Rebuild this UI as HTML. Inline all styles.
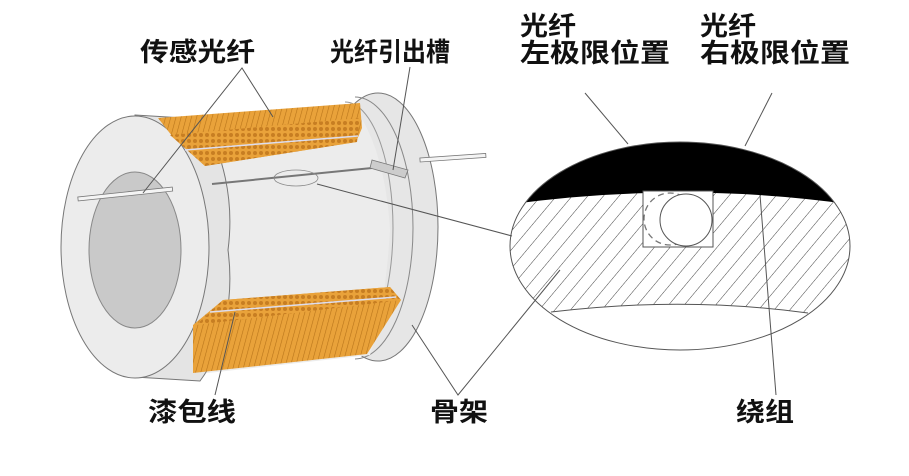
<!DOCTYPE html>
<html><head><meta charset="utf-8"><style>
html,body{margin:0;padding:0;background:#fff;}
svg{display:block;}
text{font-family:"Liberation Sans","Noto Sans CJK SC",sans-serif;font-size:26px;font-weight:bold;fill:#111;}
</style></head><body>
<svg width="909" height="476" viewBox="0 0 909 476" xmlns="http://www.w3.org/2000/svg">
<defs>
<pattern id="hatch" patternUnits="userSpaceOnUse" width="12" height="12" patternTransform="rotate(40)">
<rect width="12" height="12" fill="#fff"/>
<line x1="0" y1="0" x2="0" y2="12" stroke="#444" stroke-width="1"/>
</pattern>
<pattern id="coil" patternUnits="userSpaceOnUse" width="5" height="10" patternTransform="rotate(15)">
<rect width="5" height="10" fill="#e9a23a"/>
<line x1="0" y1="0" x2="0" y2="10" stroke="#b8741a" stroke-width="1.2"/>
</pattern>
<pattern id="dots" patternUnits="userSpaceOnUse" width="6" height="6">
<rect width="6" height="6" fill="#e9a23a"/>
<circle cx="3" cy="3" r="2" fill="#c77e22"/>
</pattern>
<clipPath id="ell"><ellipse cx="680" cy="246" rx="170" ry="104"/></clipPath>
</defs>

<!-- right flange -->
<ellipse cx="378" cy="227" rx="60" ry="134" fill="#e6e6e6" stroke="#777" stroke-width="1"/>
<path d="M355 97 A58 131 0 0 1 355 359" fill="none" stroke="#888" stroke-width="1"/>
<path d="M345 102 A48 126 0 0 1 345 354" fill="none" stroke="#999" stroke-width="1"/>
<!-- right fiber out -->
<rect x="420" y="158" width="66" height="4" fill="#f4f4f4" stroke="#777" stroke-width="0.8" transform="rotate(-4 420 160)"/>

<!-- drum body -->
<path d="M175 128 L355 108 Q385 150 390 230 Q385 310 370 355 L190 375 Z" fill="#ececec"/>
<!-- left flange side -->
<path d="M135 115 L200 119 A80 132 0 0 1 228 250 A80 132 0 0 1 200 381 L135 377 Z" fill="#e4e4e4" stroke="#777" stroke-width="1"/>
<!-- left flange front -->
<ellipse cx="135" cy="247" rx="74" ry="131" fill="#ececec" stroke="#777" stroke-width="1"/>
<ellipse cx="135" cy="250" rx="46" ry="78" fill="#c9c9c9" stroke="#888" stroke-width="1"/>

<!-- top winding -->
<path d="M158 118 L360 103 L362 128 L356 142 L205 166 L172 136 Z" fill="url(#coil)"/>
<path d="M170 135 L360 118 L357 142 L205 166 Z" fill="url(#dots)"/>
<line x1="185" y1="150" x2="358" y2="136" stroke="#dde" stroke-width="1.5"/>
<!-- bottom winding -->
<path d="M223 300 L390 287 L401 300 L367 354 L193 373 L193 325 Z" fill="url(#coil)"/>
<path d="M223 300 L390 287 L401 300 L196 325 Z" fill="url(#dots)"/>
<line x1="210" y1="312" x2="396" y2="297" stroke="#dde" stroke-width="1.5"/>

<!-- fiber -->
<rect x="78" y="197" width="95" height="4" fill="#f4f4f4" stroke="#777" stroke-width="0.8" transform="rotate(-6 78 199)"/>
<line x1="212" y1="184" x2="372" y2="168" stroke="#777" stroke-width="2"/>
<ellipse cx="296" cy="178" rx="22" ry="8" fill="none" stroke="#888" stroke-width="0.8"/>
<path d="M372 160 L408 170 L405 178 L370 168 Z" fill="#ccc" stroke="#777" stroke-width="0.8"/>

<!-- detail ellipse -->
<g clip-path="url(#ell)">
<rect x="505" y="140" width="350" height="215" fill="url(#hatch)"/>
<path d="M505 140 L855 140 L855 205 Q682 180 505 205 Z" fill="#000"/>
<path d="M505 360 L505 318 L551 312 Q683 296 808 313 L855 318 L855 360 Z" fill="#fff"/>
<path d="M551 312 Q683 296 808 313" fill="none" stroke="#555" stroke-width="1"/>
</g>
<ellipse cx="680" cy="246" rx="170" ry="104" fill="none" stroke="#555" stroke-width="1"/>
<rect x="643" y="191" width="70" height="56" fill="#fff" stroke="#555" stroke-width="1"/>
<circle cx="670" cy="219" r="26" fill="none" stroke="#777" stroke-width="1.3" stroke-dasharray="6,4"/>
<circle cx="686" cy="220" r="26" fill="#fff" stroke="#555" stroke-width="1"/>

<!-- leader lines -->
<g stroke="#555" stroke-width="1" fill="none">
<polyline points="143,193 242,68 273,117"/>
<line x1="410" y1="67" x2="393" y2="170"/>
<line x1="585" y1="93" x2="628" y2="144"/>
<line x1="772" y1="93" x2="745" y2="146"/>
<line x1="317" y1="184" x2="512" y2="236"/>
<line x1="215" y1="395" x2="235" y2="312"/>
<polyline points="412,325 458,395 560,270"/>
<line x1="760" y1="195" x2="776" y2="395"/>
</g>

<!-- labels -->
<text x="140" y="61" textLength="115" lengthAdjust="spacingAndGlyphs">传感光纤</text>
<text x="330" y="61" textLength="120" lengthAdjust="spacingAndGlyphs">光纤引出槽</text>
<text x="520" y="35" textLength="56" lengthAdjust="spacingAndGlyphs">光纤</text>
<text x="520" y="62" textLength="150" lengthAdjust="spacingAndGlyphs">左极限位置</text>
<text x="700" y="35" textLength="56" lengthAdjust="spacingAndGlyphs">光纤</text>
<text x="700" y="62" textLength="150" lengthAdjust="spacingAndGlyphs">右极限位置</text>
<text x="148" y="421" textLength="88" lengthAdjust="spacingAndGlyphs">漆包线</text>
<text x="430" y="421" textLength="58" lengthAdjust="spacingAndGlyphs">骨架</text>
<text x="736" y="421" textLength="58" lengthAdjust="spacingAndGlyphs">绕组</text>
</svg>
</body></html>
